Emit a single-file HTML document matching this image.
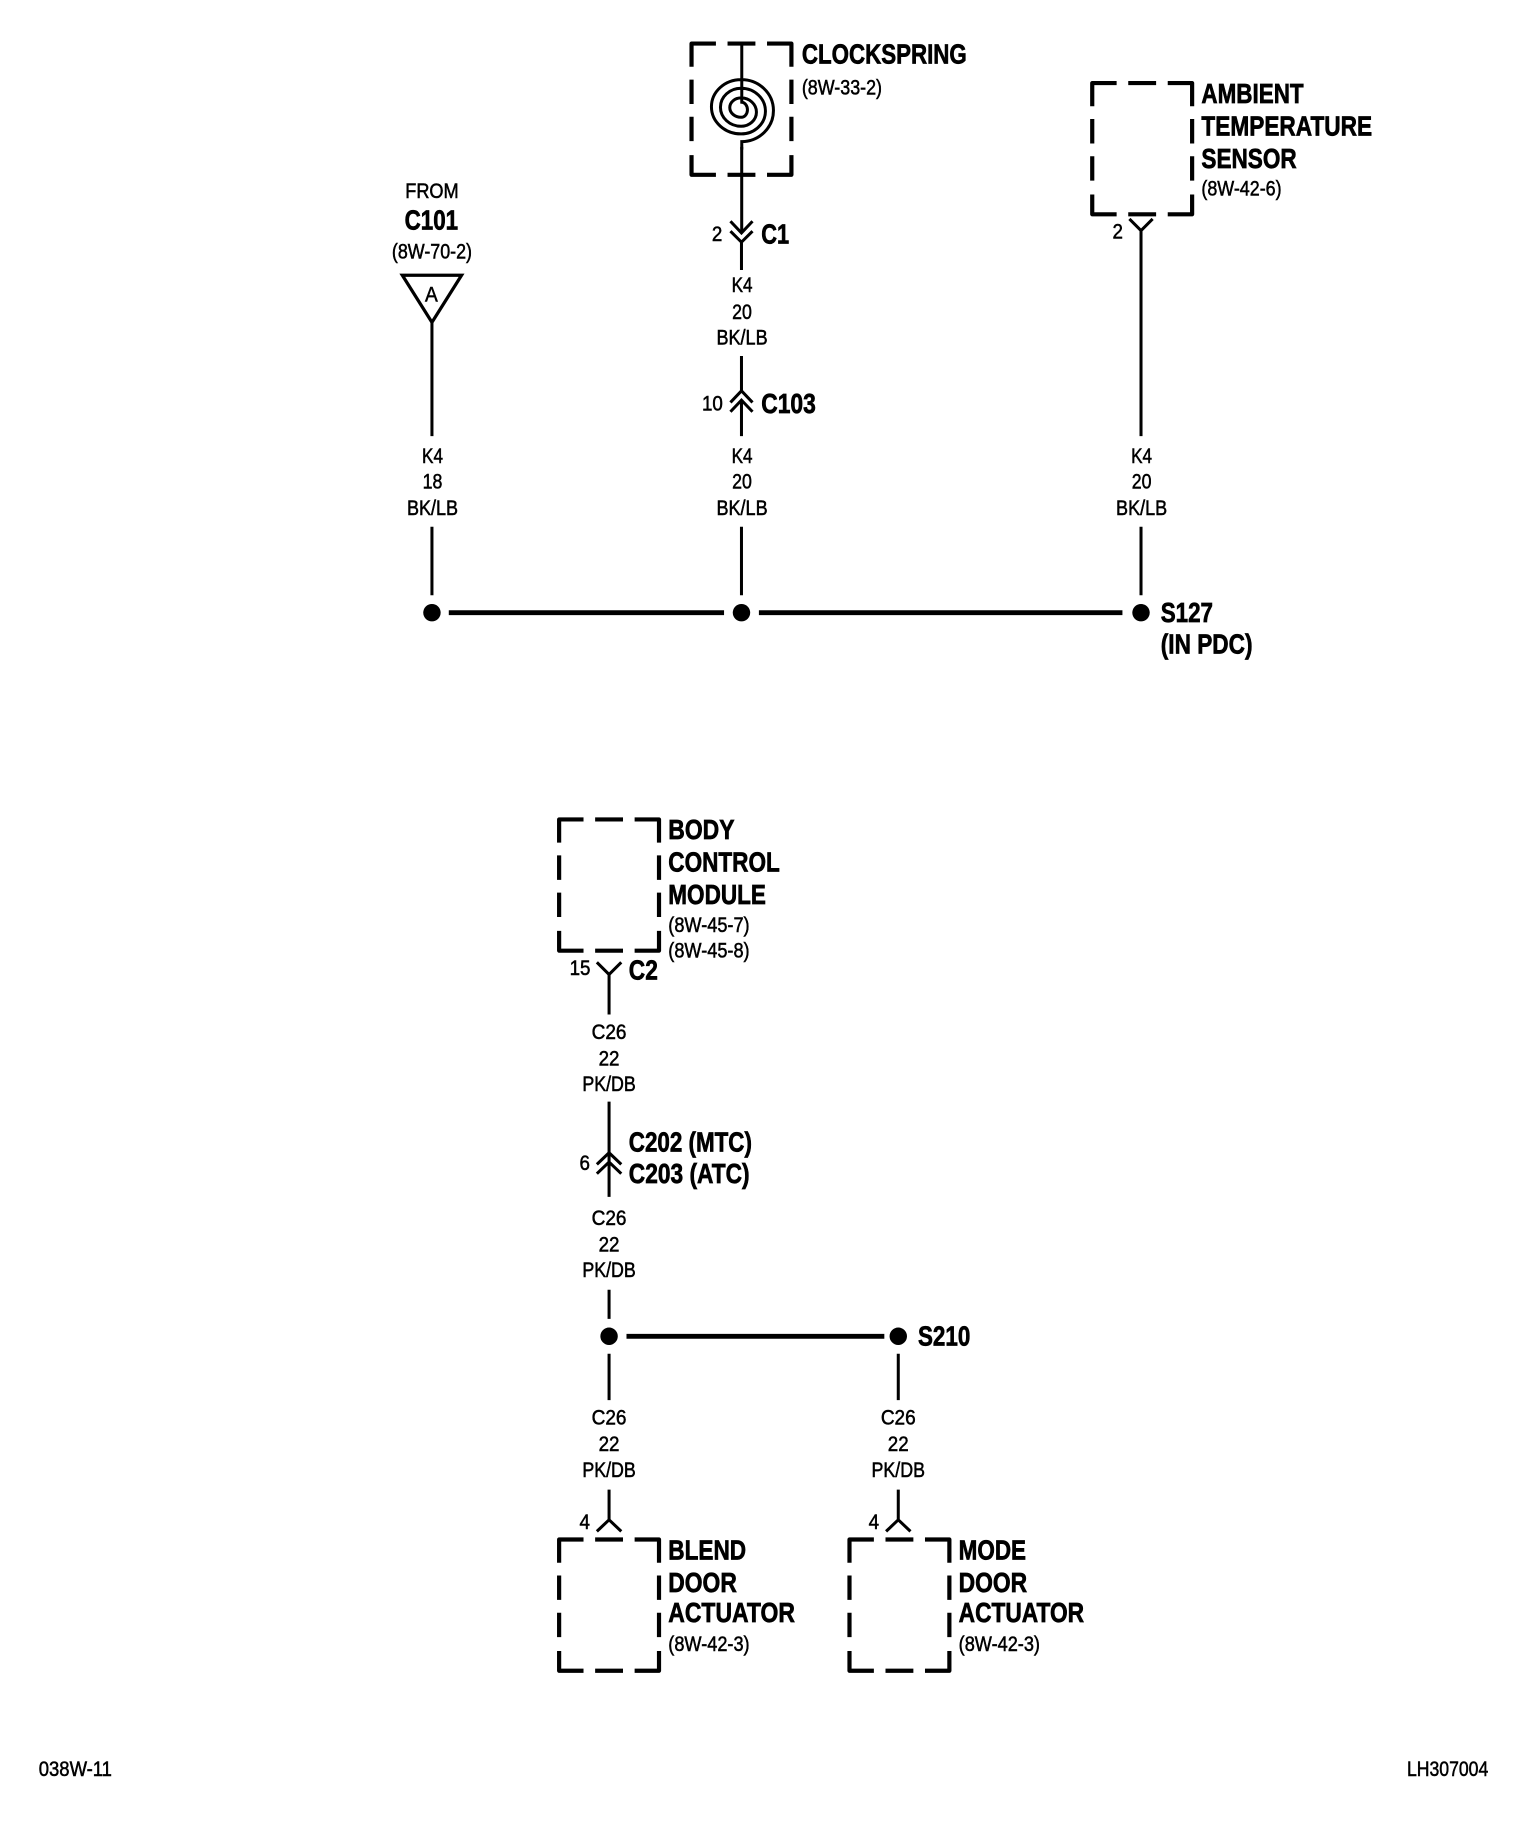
<!DOCTYPE html>
<html><head><meta charset="utf-8"><style>
html,body{margin:0;padding:0;background:#fff}
svg{display:block}
text{font-family:"Liberation Sans",Arial,sans-serif;fill:#000}
.b{font-size:24px;font-weight:bold;stroke:#000;stroke-width:.6}
.r{font-size:18px;stroke:#000;stroke-width:.45}
.m{text-anchor:middle}
.w{fill:none;stroke:#000;stroke-width:2.6}
.bus{fill:none;stroke:#000;stroke-width:4.2}
.box{fill:none;stroke:#000;stroke-width:3.6;stroke-linejoin:round}
</style></head><body>
<svg xmlns="http://www.w3.org/2000/svg" width="1520" height="1822" viewBox="0 0 1308.7 1568.7">
<defs>
<path id="bx" class="box" d="M0,20V0H21M31,0H55M65,0H86V20M0,31V52M0,63V84M0,96V113H21M31,113H55M65,113H86V96M86,31V52M86,63V84"/>
</defs>
<rect width="1308.7" height="1568.7" fill="#fff"/>
<g transform="translate(.4,.5)">

<!-- boxes -->
<use href="#bx" x="595" y="37"/>
<use href="#bx" x="940" y="71"/>
<use href="#bx" x="481" y="705"/>
<use href="#bx" x="481" y="1325"/>
<use href="#bx" x="731" y="1325"/>

<!-- clockspring -->
<g transform="scale(0.86096) translate(700,65) scale(.33333)">
<path fill="none" stroke="#000" stroke-width="9" d="M124,-72V110A18,22.500 0 0 1 122,155A34,29 0 0 1 122,97A46,42.500 0 0 1 122,182A62,57 0 0 1 122,68A73,68.500 0 0 1 122,205A89,81.500 0 0 1 122,42A96,93 0 0 1 124,228V252"/>
</g>
<path class="w" d="M638.200,126V200"/>
<path class="w" d="M628.500,190L638,200L647.500,190M628.500,198.500L638,208L647.500,198.500M638,208V232"/>
<path class="w" d="M638,306V336M628.500,346L638,336L647.500,346M628.500,354L638,344L647.500,354M638,344V375"/>
<path class="w" d="M638,453V512"/>

<!-- from C101 -->
<path class="w" d="M346,236.500H397L371.500,277Z" style="stroke-width:2.8;stroke-linejoin:miter"/>
<path class="w" d="M371.500,277V375M371.500,453V512"/>

<!-- ambient -->
<path class="w" d="M972,188L982,198L992,188M982,198V375M982,453V512"/>

<!-- bus S127 -->
<circle cx="371.500" cy="527" r="7.500"/><circle cx="638" cy="527" r="7.500"/><circle cx="982" cy="527" r="7.500"/>
<path class="bus" d="M386,527H623M653,527H966"/>

<!-- lower wires -->
<path class="w" d="M513.500,828L524,838.500L534.500,828M524,838.500V873"/>
<path class="w" d="M524,948V1002M513.500,1002L524,992L534.500,1002M513.500,1010L524,1000L534.500,1010M524,1000V1030"/>
<path class="w" d="M524,1110V1135M524,1165V1205M524,1282V1308M513.500,1318L524,1308L534.500,1318"/>
<path class="w" d="M773,1165V1205M773,1282V1308M762.500,1318L773,1308L783.500,1318"/>
<circle cx="524" cy="1150" r="7.500"/><circle cx="773" cy="1150" r="7.500"/>
<path class="bus" d="M539,1150H761"/>

<!-- labels upper -->
<text class="b" x="690" y="54" textLength="142" lengthAdjust="spacingAndGlyphs">CLOCKSPRING</text>
<text class="r" x="690" y="81" textLength="69" lengthAdjust="spacingAndGlyphs">(8W-33-2)</text>
<text class="r m" x="371.500" y="170" textLength="46" lengthAdjust="spacingAndGlyphs">FROM</text>
<text class="b m" x="371" y="197" textLength="46" lengthAdjust="spacingAndGlyphs">C101</text>
<text class="r m" x="371.500" y="222" textLength="69" lengthAdjust="spacingAndGlyphs">(8W-70-2)</text>
<text class="r m" x="371" y="259" textLength="11" lengthAdjust="spacingAndGlyphs">A</text>
<text class="r m" x="617" y="207" textLength="9" lengthAdjust="spacingAndGlyphs">2</text>
<text class="b" x="655" y="209" textLength="24" lengthAdjust="spacingAndGlyphs">C1</text>
<text class="r m" x="613" y="353" textLength="18" lengthAdjust="spacingAndGlyphs">10</text>
<text class="b" x="655" y="355" textLength="47" lengthAdjust="spacingAndGlyphs">C103</text>
<text class="b" x="1034" y="88" textLength="88" lengthAdjust="spacingAndGlyphs">AMBIENT</text>
<text class="b" x="1034" y="116" textLength="147" lengthAdjust="spacingAndGlyphs">TEMPERATURE</text>
<text class="b" x="1034" y="144" textLength="82" lengthAdjust="spacingAndGlyphs">SENSOR</text>
<text class="r" x="1034" y="168" textLength="69" lengthAdjust="spacingAndGlyphs">(8W-42-6)</text>
<text class="r m" x="962" y="205" textLength="9" lengthAdjust="spacingAndGlyphs">2</text>

<text class="r m" x="638.500" y="251" textLength="18" lengthAdjust="spacingAndGlyphs">K4</text>
<text class="r m" x="638.500" y="274" textLength="17" lengthAdjust="spacingAndGlyphs">20</text>
<text class="r m" x="638.500" y="296" textLength="44" lengthAdjust="spacingAndGlyphs">BK/LB</text>
<text class="r m" x="372" y="398" textLength="18" lengthAdjust="spacingAndGlyphs">K4</text>
<text class="r m" x="372" y="420" textLength="17" lengthAdjust="spacingAndGlyphs">18</text>
<text class="r m" x="372" y="443" textLength="44" lengthAdjust="spacingAndGlyphs">BK/LB</text>
<text class="r m" x="638.500" y="398" textLength="18" lengthAdjust="spacingAndGlyphs">K4</text>
<text class="r m" x="638.500" y="420" textLength="17" lengthAdjust="spacingAndGlyphs">20</text>
<text class="r m" x="638.500" y="443" textLength="44" lengthAdjust="spacingAndGlyphs">BK/LB</text>
<text class="r m" x="982.500" y="398" textLength="18" lengthAdjust="spacingAndGlyphs">K4</text>
<text class="r m" x="982.500" y="420" textLength="17" lengthAdjust="spacingAndGlyphs">20</text>
<text class="r m" x="982.500" y="443" textLength="44" lengthAdjust="spacingAndGlyphs">BK/LB</text>
<text class="b" x="999" y="535" textLength="45" lengthAdjust="spacingAndGlyphs">S127</text>
<text class="b" x="999" y="562" textLength="79" lengthAdjust="spacingAndGlyphs">(IN PDC)</text>

<!-- labels lower -->
<text class="b" x="575" y="722" textLength="57" lengthAdjust="spacingAndGlyphs">BODY</text>
<text class="b" x="575" y="750" textLength="96" lengthAdjust="spacingAndGlyphs">CONTROL</text>
<text class="b" x="575" y="778" textLength="84" lengthAdjust="spacingAndGlyphs">MODULE</text>
<text class="r" x="575" y="802" textLength="70" lengthAdjust="spacingAndGlyphs">(8W-45-7)</text>
<text class="r" x="575" y="824" textLength="70" lengthAdjust="spacingAndGlyphs">(8W-45-8)</text>
<text class="r m" x="499" y="839" textLength="18" lengthAdjust="spacingAndGlyphs">15</text>
<text class="b" x="541" y="843" textLength="25" lengthAdjust="spacingAndGlyphs">C2</text>
<text class="r m" x="524" y="894" textLength="30" lengthAdjust="spacingAndGlyphs">C26</text>
<text class="r m" x="524" y="917" textLength="18" lengthAdjust="spacingAndGlyphs">22</text>
<text class="r m" x="524" y="939" textLength="46" lengthAdjust="spacingAndGlyphs">PK/DB</text>
<text class="b" x="541" y="991" textLength="106" lengthAdjust="spacingAndGlyphs">C202 (MTC)</text>
<text class="b" x="541" y="1018" textLength="104" lengthAdjust="spacingAndGlyphs">C203 (ATC)</text>
<text class="r m" x="503" y="1007" textLength="9" lengthAdjust="spacingAndGlyphs">6</text>
<text class="r m" x="524" y="1054" textLength="30" lengthAdjust="spacingAndGlyphs">C26</text>
<text class="r m" x="524" y="1077" textLength="18" lengthAdjust="spacingAndGlyphs">22</text>
<text class="r m" x="524" y="1099" textLength="46" lengthAdjust="spacingAndGlyphs">PK/DB</text>
<text class="b" x="790" y="1158" textLength="45" lengthAdjust="spacingAndGlyphs">S210</text>
<text class="r m" x="524" y="1226" textLength="30" lengthAdjust="spacingAndGlyphs">C26</text>
<text class="r m" x="524" y="1249" textLength="18" lengthAdjust="spacingAndGlyphs">22</text>
<text class="r m" x="524" y="1271" textLength="46" lengthAdjust="spacingAndGlyphs">PK/DB</text>
<text class="r m" x="773" y="1226" textLength="30" lengthAdjust="spacingAndGlyphs">C26</text>
<text class="r m" x="773" y="1249" textLength="18" lengthAdjust="spacingAndGlyphs">22</text>
<text class="r m" x="773" y="1271" textLength="46" lengthAdjust="spacingAndGlyphs">PK/DB</text>
<text class="r m" x="503" y="1316" textLength="9" lengthAdjust="spacingAndGlyphs">4</text>
<text class="r m" x="752" y="1316" textLength="9" lengthAdjust="spacingAndGlyphs">4</text>
<text class="b" x="575" y="1342" textLength="67" lengthAdjust="spacingAndGlyphs">BLEND</text>
<text class="b" x="575" y="1370" textLength="59" lengthAdjust="spacingAndGlyphs">DOOR</text>
<text class="b" x="575" y="1396" textLength="109" lengthAdjust="spacingAndGlyphs">ACTUATOR</text>
<text class="r" x="575" y="1421" textLength="70" lengthAdjust="spacingAndGlyphs">(8W-42-3)</text>
<text class="b" x="825" y="1342" textLength="58" lengthAdjust="spacingAndGlyphs">MODE</text>
<text class="b" x="825" y="1370" textLength="59" lengthAdjust="spacingAndGlyphs">DOOR</text>
<text class="b" x="825" y="1396" textLength="108" lengthAdjust="spacingAndGlyphs">ACTUATOR</text>
<text class="r" x="825" y="1421" textLength="70" lengthAdjust="spacingAndGlyphs">(8W-42-3)</text>
<text class="r" x="33" y="1528.500" textLength="63" lengthAdjust="spacingAndGlyphs">038W-11</text>
<text class="r" x="1211" y="1528.500" textLength="70" lengthAdjust="spacingAndGlyphs">LH307004</text>
</g>
</svg>
</body></html>
